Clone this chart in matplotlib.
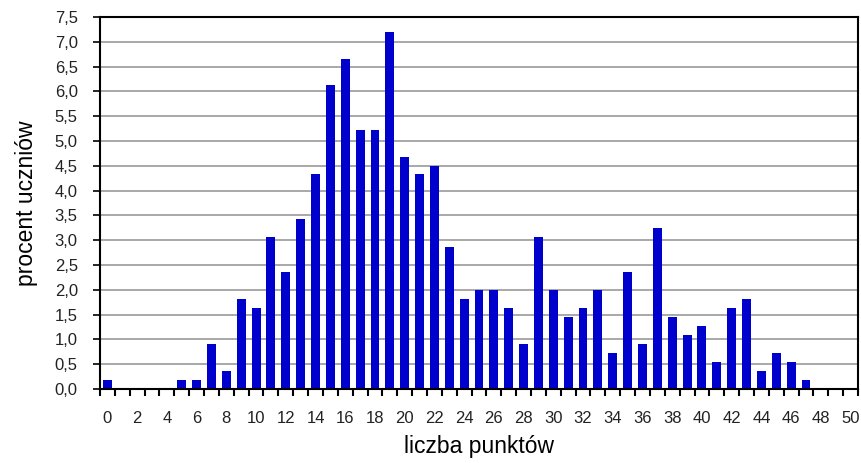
import numpy as np
import matplotlib.pyplot as plt
from matplotlib.ticker import FixedLocator

# liczba punktow 0..50, procent uczniow
points = list(range(0, 51))
percent = [0.18, 0, 0, 0, 0, 0.18, 0.18, 0.91, 0.36, 1.81,
           1.63, 3.07, 2.36, 3.42, 4.34, 6.12, 6.65, 5.22, 5.22, 7.2,
           4.68, 4.34, 4.5, 2.87, 1.81, 1.99, 1.99, 1.63, 0.91, 3.07,
           1.99, 1.45, 1.63, 1.99, 0.73, 2.35, 0.91, 3.24, 1.45, 1.08,
           1.27, 0.55, 1.63, 1.81, 0.36, 0.73, 0.55, 0.18, 0, 0,
           0]
xtick_values = list(range(0, 51, 2))
ytick_values = [0.5 * i for i in range(16)]
ytick_labels = ["%.1f" % v for v in ytick_values]
ytick_labels = [s.replace(".", ",") for s in ytick_labels]

plt.rcParams['font.family'] = ['Liberation Sans', 'DejaVu Sans']

fig = plt.figure(figsize=(8.61, 4.63), dpi=100)
ax = fig.add_axes([100 / 861, 1 - 389 / 463, 758 / 861, 372 / 463])

ax.bar(points, percent, width=0.6, color="#0000CC", zorder=3)

ax.set_xlim(-0.5, 50.5)
ax.set_ylim(0, 7.5)
ax.set_yticks(ytick_values)
ax.set_yticklabels(ytick_labels)
ax.set_xticks(xtick_values)
ax.set_xticklabels([str(v) for v in xtick_values])
ax.xaxis.set_minor_locator(FixedLocator(np.arange(-0.5, 51, 1)))

ax.tick_params(axis="x", which="major", length=0, pad=16, labelsize=12,
               labelcolor="#222222")
ax.tick_params(axis="x", which="minor", length=5, width=1.5, direction="out")
ax.tick_params(axis="y", length=5, width=1.2, pad=11, labelsize=12,
               labelcolor="#222222")

ax.yaxis.grid(True, color="#999999", linewidth=1.2, zorder=0)
for s in ax.spines.values():
    s.set_linewidth(1.5)
    s.set_color("black")
    s.set_zorder(4)

ax.set_xlabel("liczba punktów", fontsize=16.5, labelpad=6)
ax.set_ylabel("procent uczniów", fontsize=16.5, labelpad=12)

fig.savefig("out.png", dpi=100)
